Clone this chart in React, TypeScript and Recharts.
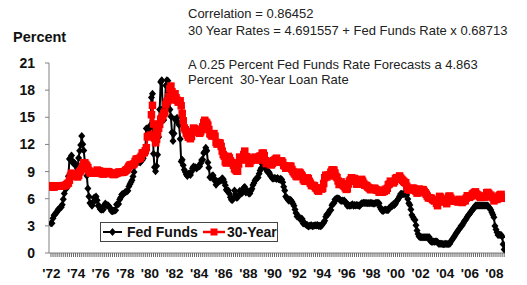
import React from 'react';
import { LineChart, Line, XAxis, YAxis } from 'recharts';

// Monthly values, January 1972 through November 2008
const startYear = 1972;

const fedFunds = [
  3.29, 3.29, 3.83, 4.17, 4.27, 4.46, 4.55, 4.80, 4.87, 5.04, 5.06, 5.33,
  5.94, 6.58, 7.09, 7.12, 7.84, 8.49, 10.40, 10.50, 10.78, 10.01, 10.03, 9.95,
  9.65, 8.97, 9.35, 10.51, 11.31, 11.93, 12.92, 12.01, 11.34, 10.06, 9.45, 8.53,
  7.13, 6.24, 5.54, 5.49, 5.22, 5.55, 6.10, 6.14, 6.24, 5.82, 5.22, 5.20,
  4.87, 4.77, 4.84, 4.82, 5.29, 5.48, 5.31, 5.29, 5.25, 5.02, 4.95, 4.65,
  4.61, 4.68, 4.69, 4.73, 5.35, 5.39, 5.42, 5.90, 6.14, 6.47, 6.51, 6.56,
  6.70, 6.78, 6.79, 6.89, 7.36, 7.60, 7.81, 8.04, 8.45, 8.96, 9.76, 10.03,
  10.07, 10.06, 10.09, 10.01, 10.24, 10.29, 10.47, 10.94, 11.43, 13.77, 13.18, 13.78,
  13.82, 14.13, 17.19, 17.61, 10.98, 9.47, 9.03, 9.61, 10.87, 12.81, 15.85, 18.90,
  19.08, 15.93, 14.70, 15.72, 18.52, 19.10, 19.04, 17.82, 15.87, 15.08, 13.31, 12.37,
  13.22, 14.78, 14.68, 14.94, 14.45, 14.15, 12.59, 10.12, 10.31, 9.71, 9.20, 8.95,
  8.68, 8.51, 8.77, 8.80, 8.63, 8.98, 9.37, 9.56, 9.45, 9.48, 9.34, 9.47,
  9.56, 9.59, 9.91, 10.29, 10.32, 11.06, 11.23, 11.64, 11.30, 9.99, 9.43, 8.38,
  8.35, 8.50, 8.58, 8.27, 7.97, 7.53, 7.88, 7.90, 7.92, 7.99, 8.05, 8.27,
  8.14, 7.86, 7.48, 6.99, 6.85, 6.92, 6.56, 6.17, 5.89, 5.85, 6.04, 6.91,
  6.43, 6.10, 6.13, 6.37, 6.85, 6.73, 6.58, 6.73, 7.22, 7.29, 6.69, 6.77,
  6.83, 6.58, 6.58, 6.87, 7.09, 7.51, 7.75, 8.01, 8.19, 8.30, 8.35, 8.76,
  9.12, 9.36, 9.85, 9.84, 9.81, 9.53, 9.24, 8.99, 9.02, 8.84, 8.55, 8.45,
  8.23, 8.24, 8.28, 8.26, 8.18, 8.29, 8.15, 8.13, 8.20, 8.11, 7.81, 7.31,
  6.91, 6.25, 6.12, 5.91, 5.78, 5.90, 5.82, 5.66, 5.45, 5.21, 4.81, 4.43,
  4.03, 4.06, 3.98, 3.73, 3.82, 3.76, 3.25, 3.30, 3.22, 3.10, 3.09, 2.92,
  3.02, 3.03, 3.07, 2.96, 3.00, 3.04, 3.06, 3.03, 3.09, 2.99, 3.02, 2.96,
  3.05, 3.25, 3.34, 3.56, 4.01, 4.25, 4.26, 4.47, 4.73, 4.76, 5.29, 5.45,
  5.53, 5.92, 5.98, 6.05, 6.01, 6.00, 5.85, 5.74, 5.80, 5.76, 5.80, 5.60,
  5.56, 5.22, 5.31, 5.22, 5.24, 5.27, 5.40, 5.22, 5.30, 5.24, 5.31, 5.29,
  5.25, 5.19, 5.39, 5.51, 5.50, 5.56, 5.52, 5.54, 5.54, 5.50, 5.52, 5.50,
  5.56, 5.51, 5.49, 5.45, 5.49, 5.56, 5.54, 5.55, 5.51, 5.07, 4.83, 4.68,
  4.63, 4.76, 4.81, 4.74, 4.74, 4.76, 4.99, 5.07, 5.22, 5.20, 5.42, 5.30,
  5.45, 5.73, 5.85, 6.02, 6.27, 6.53, 6.54, 6.50, 6.52, 6.51, 6.51, 6.40,
  5.98, 5.49, 5.31, 4.80, 4.21, 3.97, 3.77, 3.65, 3.07, 2.49, 2.09, 1.82,
  1.73, 1.74, 1.73, 1.75, 1.75, 1.75, 1.73, 1.74, 1.75, 1.75, 1.34, 1.24,
  1.24, 1.26, 1.25, 1.26, 1.26, 1.22, 1.01, 1.03, 1.01, 1.01, 1.00, 0.98,
  1.00, 1.01, 1.00, 1.00, 1.00, 1.03, 1.26, 1.43, 1.61, 1.76, 1.93, 2.16,
  2.28, 2.50, 2.63, 2.79, 3.00, 3.04, 3.26, 3.50, 3.62, 3.78, 4.00, 4.16,
  4.29, 4.49, 4.59, 4.79, 4.94, 4.99, 5.24, 5.25, 5.25, 5.25, 5.25, 5.24,
  5.25, 5.26, 5.26, 5.25, 5.25, 5.25, 5.26, 5.02, 4.94, 4.76, 4.49, 4.24,
  3.94, 2.98, 2.61, 2.28, 1.98, 2.00, 2.01, 2.00, 1.81, 0.97, 0.39,
];

const mortgage30 = [
  7.44, 7.32, 7.29, 7.29, 7.37, 7.40, 7.41, 7.40, 7.42, 7.43, 7.43, 7.44,
  7.44, 7.44, 7.46, 7.54, 7.65, 7.73, 8.05, 8.50, 8.82, 8.77, 8.58, 8.54,
  8.54, 8.46, 8.41, 8.58, 8.97, 9.09, 9.28, 9.59, 9.96, 9.98, 9.79, 9.62,
  9.43, 9.10, 8.89, 8.82, 8.91, 8.89, 8.82, 8.84, 8.95, 9.17, 9.08, 9.07,
  9.02, 8.81, 8.76, 8.73, 8.76, 8.85, 8.93, 9.00, 8.98, 8.92, 8.81, 8.79,
  8.72, 8.67, 8.69, 8.75, 8.83, 8.86, 8.94, 8.94, 8.90, 8.92, 8.92, 8.96,
  9.02, 9.15, 9.20, 9.36, 9.57, 9.71, 9.74, 9.78, 9.76, 9.86, 10.11, 10.35,
  10.39, 10.41, 10.43, 10.50, 10.69, 11.04, 11.09, 11.09, 11.30, 11.64, 12.83, 12.90,
  12.88, 13.04, 15.28, 16.32, 14.26, 12.71, 12.19, 12.56, 13.20, 13.79, 14.21, 14.79,
  14.90, 15.13, 15.40, 15.58, 16.40, 16.70, 16.83, 17.29, 18.16, 18.45, 17.83, 16.92,
  17.40, 17.60, 17.16, 16.89, 16.68, 16.70, 16.82, 16.27, 15.43, 14.61, 13.83, 13.62,
  13.25, 13.04, 12.80, 12.78, 12.63, 12.87, 13.42, 13.81, 13.73, 13.54, 13.44, 13.42,
  13.37, 13.23, 13.39, 13.65, 13.94, 14.42, 14.67, 14.47, 14.35, 14.13, 13.64, 13.18,
  13.08, 12.92, 13.17, 13.20, 12.91, 12.22, 12.03, 12.19, 12.19, 12.14, 11.78, 11.26,
  10.88, 10.71, 10.08, 9.94, 10.14, 10.68, 10.51, 10.20, 10.01, 9.97, 9.70, 9.31,
  9.20, 9.08, 9.04, 9.83, 10.60, 10.54, 10.28, 10.33, 10.89, 11.26, 10.65, 10.64,
  10.38, 9.89, 9.93, 10.20, 10.46, 10.46, 10.43, 10.60, 10.48, 10.30, 10.27, 10.61,
  10.73, 10.65, 11.03, 11.05, 10.77, 10.20, 9.88, 9.99, 10.13, 9.95, 9.77, 9.74,
  9.90, 10.20, 10.27, 10.37, 10.48, 10.16, 10.04, 10.10, 10.18, 10.18, 10.01, 9.67,
  9.64, 9.37, 9.50, 9.49, 9.47, 9.62, 9.58, 9.24, 9.01, 8.86, 8.71, 8.50,
  8.43, 8.76, 8.94, 8.85, 8.67, 8.51, 8.13, 7.98, 7.92, 8.09, 8.31, 8.22,
  7.92, 7.71, 7.46, 7.46, 7.47, 7.42, 7.21, 7.11, 6.92, 6.83, 7.16, 7.17,
  7.06, 7.15, 7.68, 8.32, 8.60, 8.40, 8.61, 8.51, 8.64, 8.93, 9.17, 9.20,
  9.15, 8.83, 8.46, 8.32, 7.96, 7.57, 7.61, 7.86, 7.64, 7.48, 7.38, 7.20,
  7.03, 7.08, 7.62, 7.93, 8.07, 8.32, 8.25, 8.00, 8.23, 7.92, 7.62, 7.60,
  7.82, 7.65, 7.90, 8.14, 7.94, 7.69, 7.50, 7.48, 7.43, 7.29, 7.21, 7.10,
  6.99, 7.04, 7.13, 7.14, 7.14, 7.00, 6.95, 6.92, 6.72, 6.71, 6.87, 6.72,
  6.79, 6.81, 7.04, 6.92, 7.15, 7.55, 7.63, 7.94, 7.82, 7.85, 7.74, 7.91,
  8.21, 8.33, 8.24, 8.15, 8.52, 8.29, 8.15, 8.03, 7.91, 7.80, 7.75, 7.38,
  7.03, 7.05, 6.95, 7.08, 7.15, 7.16, 7.13, 6.95, 6.82, 6.62, 6.66, 7.07,
  7.00, 6.89, 7.01, 6.99, 6.81, 6.65, 6.49, 6.29, 6.09, 6.11, 6.07, 6.05,
  5.92, 5.84, 5.75, 5.81, 5.48, 5.23, 5.63, 6.26, 6.15, 5.95, 5.93, 5.88,
  5.71, 5.64, 5.45, 5.83, 6.27, 6.29, 6.06, 5.87, 5.75, 5.72, 5.73, 5.75,
  5.71, 5.63, 5.93, 5.86, 5.72, 5.58, 5.70, 5.82, 5.77, 6.07, 6.33, 6.27,
  6.15, 6.25, 6.32, 6.51, 6.60, 6.68, 6.76, 6.52, 6.40, 6.36, 6.24, 6.14,
  6.22, 6.29, 6.16, 6.18, 6.26, 6.66, 6.70, 6.57, 6.38, 6.38, 6.21, 6.10,
  5.76, 5.92, 5.97, 5.92, 6.04, 6.32, 6.43, 6.48, 6.04, 6.20, 6.09,
];

const yTicks = [0, 3, 6, 9, 12, 15, 18, 21];
const seriesNames = ['Fed Funds', '30-Year'];
const yAxisTitle = 'Percent';
const annotationTop = ['Correlation = 0.86452', '30 Year Rates = 4.691557 + Fed Funds Rate x 0.68713'];
const annotationMid = ['A 0.25 Percent Fed Funds Rate Forecasts a 4.863', 'Percent  30-Year Loan Rate'];

const data = fedFunds.map((v, i) => ({
  t: startYear + i / 12,
  fed: v,
  mort: mortgage30[i],
}));

// tick every 2 months along the axis; labels on January of even years
const xTicks: number[] = [];
for (let m = 0; m <= fedFunds.length; m += 2) xTicks.push(startYear + m / 12);

const FONT = 'Arial, "Liberation Sans", Helvetica, sans-serif';

const XTick = (props: any) => {
  const { x, y, payload } = props;
  const m = Math.round((payload.value - startYear) * 12);
  if (m % 24 !== 0) return <g />;
  const yr = startYear + m / 12;
  const label = "'" + String(yr % 100).padStart(2, '0');
  return (
    <text x={x + 0.5} y={y + 21} textAnchor="middle" fontFamily={FONT} fontWeight="bold" fontSize={13.5} fill="#111">
      {label}
    </text>
  );
};

const Diamond = (props: any) => {
  const { cx, cy, index } = props;
  if (cx == null || cy == null) return <g key={'d' + index} />;
  return (
    <path
      key={'d' + index}
      d={`M${cx},${cy - 4}L${cx + 3.5},${cy}L${cx},${cy + 4}L${cx - 3.5},${cy}Z`}
      fill="#000"
      stroke="none"
    />
  );
};

const Square = (props: any) => {
  const { cx, cy, index } = props;
  if (cx == null || cy == null) return <g key={'s' + index} />;
  return <rect key={'s' + index} x={cx - 3.75} y={cy - 3.75} width={7.5} height={7.5} fill="#ff0000" stroke="none" />;
};

export default function App() {
  return (
    <div style={{ position: 'absolute', left: 0, top: 0, width: 527, height: 285, background: '#fff' }}>
      <LineChart width={527} height={285} data={data} margin={{ top: 63, right: 22, left: 0, bottom: 0 }}>
        <XAxis
          dataKey="t"
          type="number"
          domain={[1971.84, 2008.9]}
          ticks={xTicks}
          interval={0}
          tick={<XTick />}
          tickSize={4}
          tickMargin={0}
          height={32}
          axisLine={{ stroke: '#808080', strokeWidth: 1 }}
          tickLine={{ stroke: '#666', strokeWidth: 1 }}
          allowDataOverflow
        />
        <YAxis
          type="number"
          domain={[0, 21]}
          ticks={yTicks}
          interval={0}
          width={49}
          tickSize={4}
          tickMargin={10}
          axisLine={{ stroke: '#808080', strokeWidth: 1 }}
          tickLine={{ stroke: '#808080', strokeWidth: 1 }}
          tick={{ fontFamily: FONT, fontWeight: 'bold', fontSize: 14, fill: '#111' }}
        />
        <Line
          type="linear"
          dataKey="fed"
          name={seriesNames[0]}
          stroke="#000"
          strokeWidth={2}
          dot={<Diamond />}
          isAnimationActive={false}
        />
        <Line
          type="linear"
          dataKey="mort"
          name={seriesNames[1]}
          stroke="#ff0000"
          strokeWidth={2.5}
          dot={<Square />}
          isAnimationActive={false}
        />
      </LineChart>
      <svg
        width={527}
        height={285}
        style={{ position: 'absolute', left: 0, top: 0, pointerEvents: 'none' }}
      >
        <text x={13} y={42} fontFamily={FONT} fontWeight="bold" fontSize={14.5} fill="#111">
          {yAxisTitle}
        </text>
        <text x={188} y={18} fontFamily={FONT} fontSize={13} fill="#222">{annotationTop[0]}</text>
        <text x={188} y={35} fontFamily={FONT} fontSize={13} fill="#222">{annotationTop[1]}</text>
        <text x={188} y={69} fontFamily={FONT} fontSize={13} fill="#222">{annotationMid[0]}</text>
        <text x={188} y={84} fontFamily={FONT} fontSize={13} fill="#222" style={{ whiteSpace: 'pre' }}>
          {annotationMid[1]}
        </text>
        <g>
          <rect x={100.5} y={222.5} width={177} height={19} fill="#fff" stroke="#444" strokeWidth={1} />
          <line x1={103} y1={232} x2={122} y2={232} stroke="#000" strokeWidth={2} />
          <path d="M112.5,228L116,232L112.5,236L109,232Z" fill="#000" />
          <text x={127} y={237} fontFamily={FONT} fontWeight="bold" fontSize={14} fill="#111">
            {seriesNames[0]}
          </text>
          <line x1={203} y1={232} x2={225} y2={232} stroke="#ff0000" strokeWidth={2.5} />
          <rect x={210.5} y={228.5} width={7} height={7} fill="#ff0000" />
          <text x={227} y={237} fontFamily={FONT} fontWeight="bold" fontSize={14} fill="#111">
            {seriesNames[1]}
          </text>
        </g>
      </svg>
    </div>
  );
}
